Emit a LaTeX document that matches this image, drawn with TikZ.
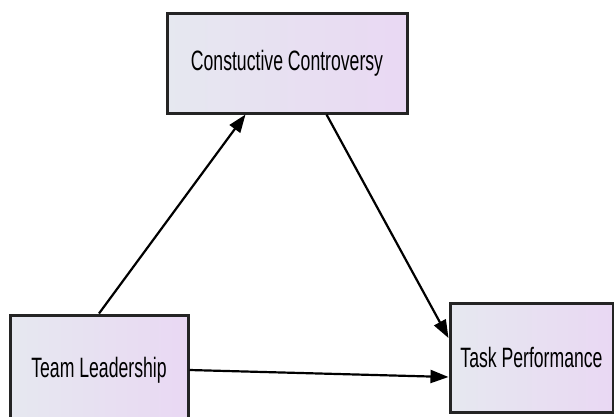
\documentclass[tikz,border=0pt]{standalone}
\usepackage{fontspec}
\setmainfont[FakeStretch=0.63]{Liberation Sans}
\usetikzlibrary{arrows.meta}
\definecolor{boxleft}{HTML}{E6E8F0}
\definecolor{boxright}{HTML}{E9D8F3}
\definecolor{boxline}{HTML}{242424}
\tikzset{
  varbox/.style={draw=boxline, line width=3pt, left color=boxleft, right color=boxright,
    rectangle, inner sep=0pt, font=\fontsize{28}{30}\selectfont, text=black},
  path/.style={line width=2.2pt, -{Triangle[length=18pt,width=13pt]}}
}
\begin{document}
\begin{tikzpicture}[x=1pt,y=-1pt]
  \useasboundingbox (0,0) rectangle (614,416);
  \node[varbox, minimum width=240pt, minimum height=100pt] (cc) at (287,63) {Constuctive Controversy};
  \node[varbox, minimum width=178pt, minimum height=110pt] (tl) at (99,370) {Team Leadership};
  \node[varbox, minimum width=163pt, minimum height=109pt] (tp) at (531.5,357.5) {Task Performance};
  \draw[path] (tl.north) -- ([xshift=80pt]cc.south west);
  \draw[path] ([xshift=161pt]cc.south west) -- ([yshift=19.5pt]tp.west);
  \draw[path] (tl.east) -- ([yshift=-19.5pt]tp.west);
\end{tikzpicture}
\end{document}
